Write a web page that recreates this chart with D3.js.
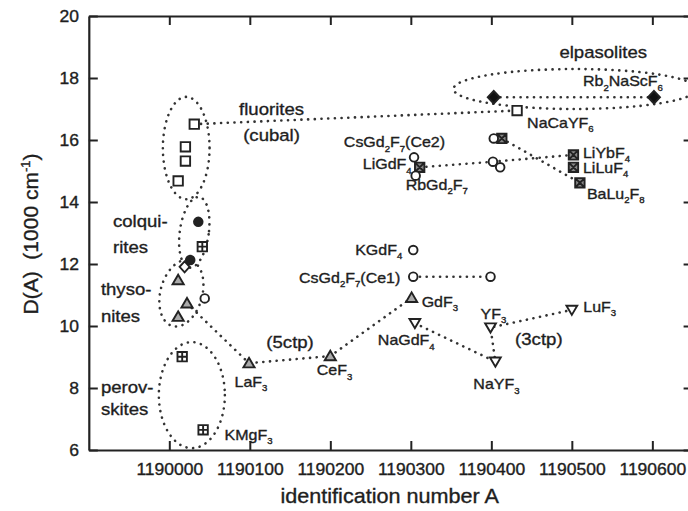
<!DOCTYPE html>
<html>
<head>
<meta charset="utf-8">
<script src="https://cdn.jsdelivr.net/npm/d3@7"></script>
<style>
  body { margin: 0; background: #fff; }
  svg { display: block; }
  text { font-family: "Liberation Sans", Arial, Helvetica, sans-serif; fill: #1e1e1e; stroke: #1e1e1e; stroke-width: 0.35px; }
</style>
</head>
<body>
<svg id="chart" width="688" height="511"></svg>
<script>
// ---- axis ticks ----
const xTicks = [1190000, 1190100, 1190200, 1190300, 1190400, 1190500, 1190600];
const yTicks = [6, 8, 10, 12, 14, 16, 18, 20];

// ---- measured points: [identification number A, D(A) in 1000 cm^-1] ----
const openSquares   = [[1190031, 16.51], [1190020, 15.78], [1190020, 15.32], [1190011, 14.68], [1190432, 16.95]];
const filledDiamonds = [[1190403, 17.38], [1190602, 17.38]];
const filledCircles = [[1190036, 13.36], [1190026, 12.13]];
const openDiamonds  = [[1190019, 11.91]];
const gridSquares   = [[1190041, 12.56], [1190016, 9.01], [1190042, 6.65]];
const upTriangles   = [[1190011, 11.48], [1190022, 10.73], [1190011, 10.30], [1190099, 8.80], [1190200, 9.03], [1190301, 10.91]];
const openCircles   = [[1190044, 10.89], [1190303, 12.45], [1190303, 11.59], [1190399, 11.59],
                       [1190304, 15.44], [1190306, 14.85], [1190403, 16.05], [1190402, 15.30], [1190411, 15.12]];
const crossSquares  = [[1190311, 15.12], [1190413, 16.05], [1190502, 15.52], [1190502, 15.12], [1190510, 14.62]];
const downTriangles = [[1190305, 10.09], [1190399, 9.95], [1190405, 8.85], [1190500, 10.52]];

// ---- dotted connections between related compounds ----
const links = [
  [[1190031, 16.51], [1190432, 16.95]],
  [[1190403, 17.38], [1190602, 17.38]],
  [[1190311, 15.12], [1190402, 15.30]],
  [[1190402, 15.30], [1190502, 15.52]],
  [[1190413, 16.05], [1190510, 14.62]],
  [[1190022, 10.73], [1190099, 8.80], [1190200, 9.03], [1190301, 10.91]],
  [[1190303, 11.59], [1190399, 11.59]],
  [[1190305, 10.09], [1190405, 8.85], [1190399, 9.95], [1190500, 10.52]]
];

// ---- compound names attached to points: [name, A, D] ----
const compoundNames = [
  ["NaCaYF_6", 1190432, 16.95],
  ["Rb_2NaScF_6", 1190602, 17.38],
  ["LiYbF_4", 1190502, 15.52],
  ["LiLuF_4", 1190502, 15.12],
  ["BaLu_2F_8", 1190510, 14.62],
  ["CsGd_2F_7(Ce2)", 1190304, 15.44],
  ["LiGdF_4", 1190311, 15.12],
  ["RbGd_2F_7", 1190306, 14.85],
  ["KGdF_4", 1190303, 12.45],
  ["CsGd_2F_7(Ce1)", 1190303, 11.59],
  ["GdF_3", 1190301, 10.91],
  ["NaGdF_4", 1190305, 10.09],
  ["YF_3", 1190399, 9.95],
  ["LuF_3", 1190500, 10.52],
  ["NaYF_3", 1190405, 8.85],
  ["LaF_3", 1190099, 8.80],
  ["CeF_3", 1190200, 9.03],
  ["KMgF_3", 1190042, 6.65]
];

// ---- structure-family captions: [text, A, D] ----
const familyNames = [
  ["fluorites", 1190127, 16.81],
  ["(cubal)", 1190127, 15.97],
  ["elpasolites", 1190539, 18.65],
  ["colqui-", 1189930, 13.19],
  ["rites", 1189930, 12.35],
  ["thyso-", 1189915, 11.00],
  ["nites", 1189915, 10.14],
  ["perov-", 1189915, 7.84],
  ["skites", 1189915, 7.13]
];
const transitionNames = [["(5ctp)", 1190150, 9.29], ["(3ctp)", 1190459, 9.39]];

// ---- layout ----
const svg = d3.select("#chart");
const x = d3.scaleLinear().domain([1189900, 1190650]).range([88.8, 692.6]);
const y = d3.scaleLinear().domain([6, 20]).range([450, 16]);
const SX = 1.08;           // glyphs are drawn slightly wide
const INK = "#222";

function richText(parent, str, px, py, size, anchor) {
  const t = parent.append("text")
    .attr("transform", `translate(${px},${py}) scale(${SX},1)`)
    .attr("font-size", size)
    .attr("text-anchor", anchor || "start");
  const re = /_(\w)|\^\{([^}]*)\}|([^_^]+)/g;
  let shift = 0;
  for (const m of str.matchAll(re)) {
    let txt, target, small;
    if (m[1]) { txt = m[1]; target = size * 0.3; small = true; }
    else if (m[2]) { txt = m[2]; target = -size * 0.42; small = true; }
    else { txt = m[3]; target = 0; small = false; }
    const ts = t.append("tspan").attr("dy", target - shift).text(txt);
    if (small) ts.attr("font-size", size * 0.6);
    shift = target;
  }
  return t;
}

// ---- axes (ticks point inward on all four sides) ----
function styleAxis(g) {
  g.select(".domain").attr("stroke", INK).attr("stroke-width", 2.2);
  g.selectAll(".tick line").attr("stroke", INK).attr("stroke-width", 2);
}
const gx = svg.append("g").attr("transform", `translate(0,${y(6)})`)
  .call(d3.axisBottom(x).tickValues(xTicks).tickSize(-9).tickSizeOuter(0).tickPadding(20).tickFormat(d3.format("d")))
  .call(styleAxis);
gx.selectAll(".tick text")
  .attr("font-size", 16.2).attr("fill", "#1e1e1e").attr("font-family", null)
  .attr("dy", 0).attr("y", 25).attr("transform", `scale(${SX},1)`);

const gy = svg.append("g").attr("transform", `translate(${x(1189900)},0)`)
  .call(d3.axisLeft(y).tickValues(yTicks).tickSize(-9).tickSizeOuter(0).tickPadding(9).tickFormat(d3.format("d")))
  .call(styleAxis);
gy.selectAll(".tick text")
  .attr("font-size", 16.2).attr("fill", "#1e1e1e").attr("font-family", null)
  .attr("dy", "0.36em").attr("transform", `scale(${SX},1)`);

svg.append("g").attr("transform", `translate(0,${y(20)})`)
  .call(d3.axisTop(x).tickValues(xTicks).tickSize(-9).tickSizeOuter(0).tickFormat(""))
  .call(styleAxis);
svg.append("g").attr("transform", `translate(${x(1190650)},0)`)
  .call(d3.axisRight(y).tickValues(yTicks).tickSize(-9).tickSizeOuter(0).tickFormat(""))
  .call(styleAxis);

// axis titles
svg.append("text")
  .attr("transform", `translate(38,${(y(20) + y(6)) / 2 + 1}) rotate(-90)`)
  .attr("text-anchor", "middle").attr("font-size", 21).style("white-space", "pre")
  .call(t => {
    t.append("tspan").text("D(A)  (1000 cm");
    t.append("tspan").attr("font-size", 13).attr("dy", -8).text("-1");
    t.append("tspan").attr("dy", 8).text(")");
  });
richText(svg, "identification number A", (x(1189900) + x(1190650)) / 2 - 1, 503, 20, "middle");

// ---- dotted family outlines ----
const dotted = sel => sel.attr("fill", "none").attr("stroke", "#333").attr("stroke-width", 2.6)
  .attr("stroke-linecap", "round").attr("stroke-dasharray", "0.1 6.6");

const families = [
  { cx: 1190021, cy: 15.74, rx: 29,  ry: 1.65, rot: 0 },   // fluorites
  { cx: 1190031, cy: 13.02, rx: 18,  ry: 1.15, rot: 8 },   // colquirites
  { cx: 1190015, cy: 11.06, rx: 26,  ry: 1.10, rot: 15 },  // thysonites
  { cx: 1190028, cy: 7.77,  rx: 41,  ry: 1.71, rot: 0 },   // perovskites
  { cx: 1190504, cy: 17.645, rx: 151, ry: 0.645, rot: 0 }  // elpasolites
];
svg.append("clipPath").attr("id", "plotClip").append("rect")
  .attr("x", x(1189900)).attr("y", y(20)).attr("width", x(1190650) - x(1189900)).attr("height", y(6) - y(20));
const outlines = svg.append("g").attr("clip-path", "url(#plotClip)");
families.forEach(e => {
  const cx = x(e.cx), cy = y(e.cy);
  outlines.append("ellipse")
    .attr("cx", cx).attr("cy", cy)
    .attr("rx", x(e.cx + e.rx) - cx).attr("ry", cy - y(e.cy + e.ry))
    .attr("transform", `rotate(${e.rot} ${cx} ${cy})`)
    .call(dotted);
});

const line = d3.line().x(d => x(d[0])).y(d => y(d[1]));
outlines.selectAll("path.link").data(links).join("path").attr("class", "link")
  .attr("d", line).call(dotted);

// ---- markers ----
const s = 4.7;
const shapes = {
  square:   `M${-s},${-s}H${s}V${s}H${-s}Z`,
  grid:     `M${-s},${-s}H${s}V${s}H${-s}ZM${-s},0H${s}M0,${-s}V${s}`,
  cross:    `M${-s},${-s}H${s}V${s}H${-s}ZM${-s},${-s}L${s},${s}M${s},${-s}L${-s},${s}`,
  diamond:  "M0,-6.3L6,0L0,6.3L-6,0Z",
  up:       "M0,-5.4L5.6,4.2L-5.6,4.2Z",
  down:     "M0,5L5.4,-4.2L-5.4,-4.2Z"
};
const markers = svg.append("g").attr("stroke", INK).attr("stroke-width", 1.9);
function drawPath(data, d, fill) {
  markers.append("g").selectAll("path").data(data).join("path")
    .attr("transform", p => `translate(${x(p[0])},${y(p[1])})`)
    .attr("d", d).attr("fill", fill);
}
function drawCircles(data, fill) {
  markers.append("g").selectAll("circle").data(data).join("circle")
    .attr("cx", p => x(p[0])).attr("cy", p => y(p[1])).attr("r", 4.3).attr("fill", fill);
}
drawPath(openSquares, shapes.square, "#fff");
drawPath(gridSquares, shapes.grid, "#fff");
drawPath(crossSquares, shapes.cross, "#888");
drawPath(filledDiamonds, shapes.diamond, "#111");
drawPath(openDiamonds, "M0,-5.5L5,0L0,5.5L-5,0Z", "#fff");
drawPath(upTriangles, shapes.up, "#aaa");
drawPath(downTriangles, shapes.down, "#fff");
drawCircles(openCircles, "#fff");
drawCircles(filledCircles, "#222");

// ---- labels ----
const namePlacement = {
  "NaCaYF_6": [10, 17, "start"],
  "Rb_2NaScF_6": [-71, -11, "start"],
  "LiYbF_4": [9.5, 3, "start"],
  "LiLuF_4": [9.5, 5.5, "start"],
  "BaLu_2F_8": [7, 16, "start"],
  "CsGd_2F_7(Ce2)": [31, -10, "end"],
  "LiGdF_4": [-8, 2, "end"],
  "RbGd_2F_7": [-10, 14, "start"],
  "KGdF_4": [-11, 5, "end"],
  "CsGd_2F_7(Ce1)": [-13, 6, "end"],
  "GdF_3": [10, 9, "start"],
  "NaGdF_4": [-37, 22, "start"],
  "YF_3": [-10, -9, "start"],
  "LuF_3": [11.5, 2, "start"],
  "NaYF_3": [-22, 27.5, "start"],
  "LaF_3": [-14.5, 23.5, "start"],
  "CeF_3": [-13.5, 19, "start"],
  "KMgF_3": [21.5, 10, "start"]
};
const labels = svg.append("g");
compoundNames.forEach(([name, a, d]) => {
  const [dx, dy, anchor] = namePlacement[name];
  richText(labels, name, x(a) + dx, y(d) + dy, 14.8, anchor);
});
familyNames.forEach(([name, a, d]) => {
  const anchor = (name === "fluorites" || name === "(cubal)" || name === "elpasolites") ? "middle" : "start";
  richText(labels, name, x(a), y(d), 17.2, anchor);
});
transitionNames.forEach(([name, a, d]) => richText(labels, name, x(a), y(d), 17.2, "middle"));
</script>
</body>
</html>
